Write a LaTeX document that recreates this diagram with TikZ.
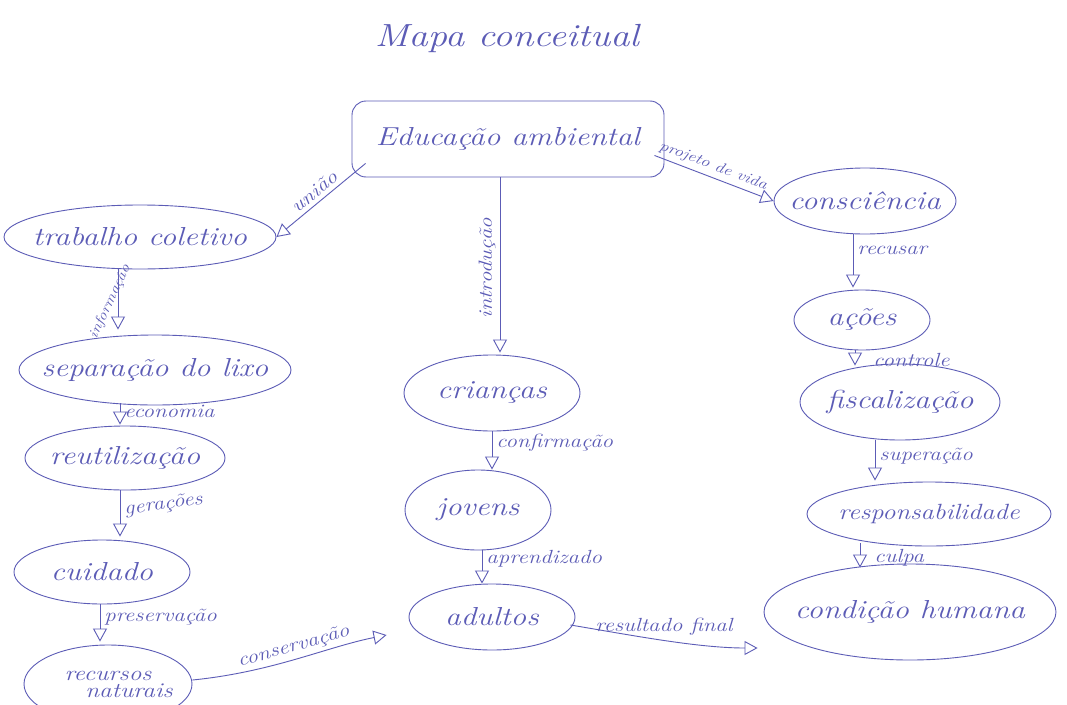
\documentclass[tikz,border=0pt]{standalone}
\usepackage{fontspec}
\usetikzlibrary{shapes.geometric,arrows.meta,calc}
\newfontfamily\hand{Latin Modern Roman}[FakeStretch=1.2]
\definecolor{pen}{RGB}{92,92,182}
\newcommand{\fs}[1]{\hand\itshape\fontsize{#1}{#1}\selectfont}
\begin{document}
\begin{tikzpicture}[x=1pt,y=-1pt,
  every node/.style={text=pen},
  bubble/.style={ellipse, draw=pen, line width=0.9pt, inner ysep=0pt, inner xsep=-40pt, font=\fs{26}},
  link/.style={draw=pen, line width=0.9pt, -{Triangle[open,length=13pt,width=14pt]}},
  lbl/.style={font=\fs{19}, inner sep=4pt}
]
\useasboundingbox[fill=white] (0,0) rectangle (1067,704);
\clip (0,0) rectangle (1067,704);

% title
\node[font=\fs{32}] (title) at (507,38) {Mapa conceitual};

% central concept
\node[draw=pen, line width=0.9pt, rounded corners=14pt, minimum width=312pt, minimum height=76pt,
  inner xsep=0pt, font=\fs{26}] (edu) at (508,139) {Educação ambiental};

% left column
\node[bubble, minimum width=272pt, minimum height=64pt] (trab) at (140,237) {trabalho coletivo};
\node[bubble, minimum width=272pt, minimum height=70pt] (sep)  at (155,370) {separação do lixo};
\node[bubble, minimum width=200pt, minimum height=64pt] (reu)  at (125,458) {reutilização};
\node[bubble, minimum width=176pt, minimum height=64pt] (cui)  at (102,572) {cuidado};
\node[bubble, minimum width=168pt, minimum height=78pt, align=center,
  font=\fs{21}] (rec) at (108,684) {recursos\\[-4pt]\hspace*{2em}naturais};

% middle column
\node[bubble, minimum width=176pt, minimum height=76pt] (cri) at (492,393) {crianças};
\node[bubble, minimum width=146pt, minimum height=80pt] (jov) at (478,510) {jovens};
\node[bubble, minimum width=166pt, minimum height=66pt] (adu) at (492,617) {adultos};

% right column
\node[bubble, minimum width=182pt, minimum height=66pt] (cons) at (865,201) {consciência};
\node[bubble, minimum width=136pt, minimum height=60pt] (acoes) at (862,320) {ações};
\node[bubble, minimum width=200pt, minimum height=76pt] (fis) at (900,402) {fiscalização};
\node[bubble, minimum width=244pt, minimum height=64pt, font=\fs{22}] (resp) at (929,514) {responsabilidade};
\node[bubble, minimum width=292pt, minimum height=96pt] (cond) at (910,612) {condição humana};

% links from the central concept
\draw[link] ($(edu.south west)+(14,-14)$) -- node[lbl, sloped, above, pos=0.5] {união} (trab.east);
\draw[link] ($(edu.south)+(-8,0)$) -- node[lbl, rotate=90, above, pos=0.52] {introdução} ($(cri.north)+(8,-2)$);
\draw[link] ($(edu.south east)+(-10,-22)$) -- node[lbl, font=\fs{15}, sloped, above, pos=0.46] {projeto de vida} (cons.west);

% left column chain
\draw[link] ($(trab.south)+(-22,0)$) -- node[lbl, font=\fs{14}, rotate=65, above, pos=0.6, inner sep=2pt] {informação} ($(sep.north)+(-37,-5)$);
\draw[link] ($(sep.south)+(-35,-2)$) -- node[lbl, right, pos=0.4] {economia} ($(reu.north)+(-5,-1)$);
\draw[link] ($(reu.south)+(-5,0)$) -- node[lbl, right, pos=0.45, rotate=8] {gerações} ($(cui.north)+(18,-3)$);
\draw[link] ($(cui.south)+(-2,0)$) -- node[lbl, right, pos=0.35] {preservação} ($(rec.north)+(-8,-3)$);
\draw[link] ($(rec.east)+(0,-4)$) .. controls +(80,-8) and +(-60,12) .. node[lbl, sloped, above, pos=0.5] {conservação} ($(adu.west)+(-22,18)$);

% middle column chain
\draw[link] (cri.south) -- node[lbl, right, pos=0.3] {confirmação} (jov.north -| cri.south);
\draw[link] ($(jov.south)+(4,0)$) -- node[lbl, right, pos=0.25] {aprendizado} ($(adu.north)+(-10,0)$);
\draw[link] ($(adu.east)+(-5,8)$) .. controls +(60,10) and +(-60,0) .. node[lbl, above, pos=0.5] {resultado final} ($(cond.west)+(-6,36)$);

% right column chain
\draw[link] ($(cons.south)+(-12,0)$) -- node[lbl, right, pos=0.3] {recusar} ($(acoes.north)+(-9,-2)$);
\draw[link] ($(acoes.south)+(-7,0)$) -- node[lbl, right, pos=0.5, xshift=14pt, yshift=-2pt] {controle} ($(fis.north)+(-45,2)$);
\draw[link] ($(fis.south)+(-25,0)$) -- node[lbl, right, pos=0.4] {superação} ($(resp.north)+(-54,-1)$);
\draw[link] ($(resp.south)+(-69,-3)$) -- node[lbl, right, pos=0.6, xshift=10pt] {culpa} ($(cond.north)+(-50,4)$);
\end{tikzpicture}
\end{document}
